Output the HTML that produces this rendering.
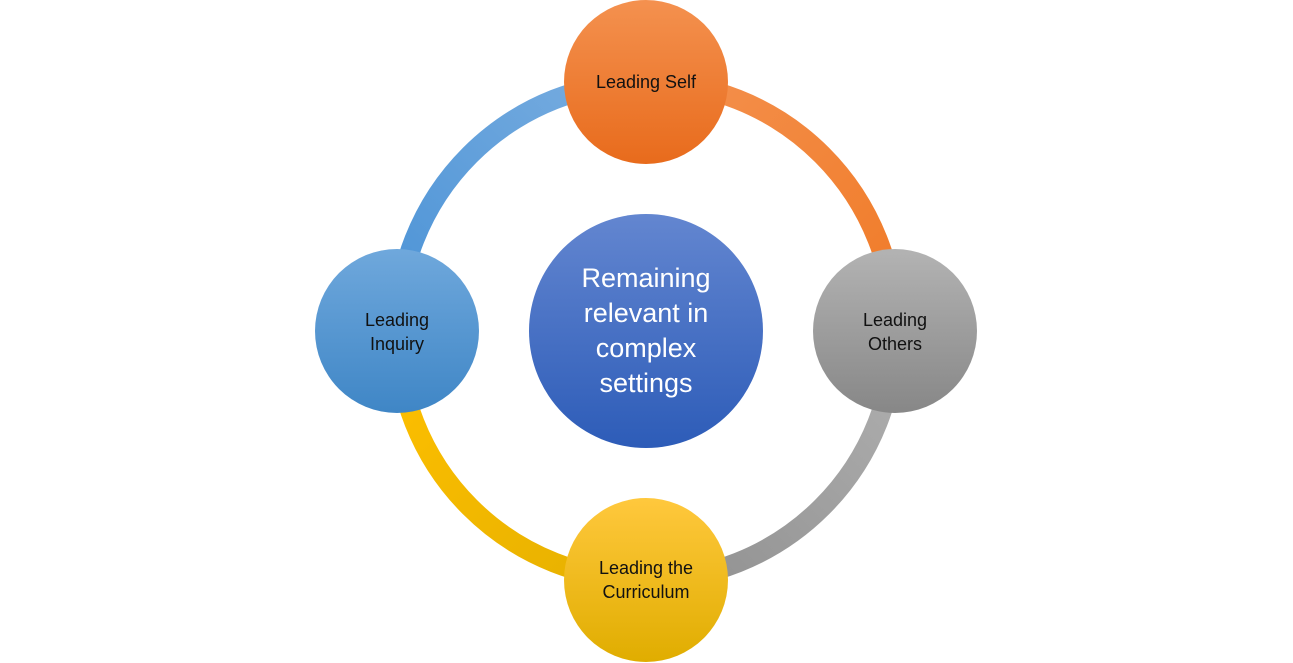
<!DOCTYPE html>
<html><head><meta charset="utf-8"><style>
html,body{margin:0;padding:0;background:#fff;}
svg{display:block;}
text{font-family:"Liberation Sans",sans-serif;}
</style></head><body>
<svg width="1293" height="663" viewBox="0 0 1293 663" xmlns="http://www.w3.org/2000/svg">
<defs>
<linearGradient id="go" x1="0" y1="0" x2="0" y2="1"><stop offset="0" stop-color="#f4914f"/><stop offset="1" stop-color="#e86b1c"/></linearGradient>
<linearGradient id="gg" x1="0" y1="0" x2="0" y2="1"><stop offset="0" stop-color="#b3b3b3"/><stop offset="1" stop-color="#878787"/></linearGradient>
<linearGradient id="gy" x1="0" y1="0" x2="0" y2="1"><stop offset="0" stop-color="#ffc83d"/><stop offset="1" stop-color="#e0ad00"/></linearGradient>
<linearGradient id="gb" x1="0" y1="0" x2="0" y2="1"><stop offset="0" stop-color="#6fa8dc"/><stop offset="1" stop-color="#3f86c6"/></linearGradient>
<linearGradient id="gc" x1="0" y1="0" x2="0" y2="1"><stop offset="0" stop-color="#6386d0"/><stop offset="1" stop-color="#2d5cb8"/></linearGradient>
<linearGradient id="ao" x1="0" y1="0" x2="1" y2="1"><stop offset="0" stop-color="#f4914f"/><stop offset="1" stop-color="#f07a26"/></linearGradient>
<linearGradient id="ag" x1="1" y1="0" x2="0" y2="1"><stop offset="0" stop-color="#b0b0b0"/><stop offset="1" stop-color="#8f8f8f"/></linearGradient>
<linearGradient id="ay" x1="0" y1="0" x2="1" y2="1"><stop offset="0" stop-color="#ffc000"/><stop offset="1" stop-color="#e5b000"/></linearGradient>
<linearGradient id="ab" x1="1" y1="0" x2="0" y2="1"><stop offset="0" stop-color="#7aaee0"/><stop offset="1" stop-color="#4a92d6"/></linearGradient>
</defs>
<g fill="none" stroke-width="20">
<path d="M646 82 A249 249 0 0 1 895 331" stroke="url(#ao)"/>
<path d="M895 331 A249 249 0 0 1 646 580" stroke="url(#ag)"/>
<path d="M646 580 A249 249 0 0 1 397 331" stroke="url(#ay)"/>
<path d="M397 331 A249 249 0 0 1 646 82" stroke="url(#ab)"/>
</g>
<circle cx="646" cy="331" r="117" fill="url(#gc)"/>
<circle cx="646" cy="82" r="82" fill="url(#go)"/>
<circle cx="895" cy="331" r="82" fill="url(#gg)"/>
<circle cx="646" cy="580" r="82" fill="url(#gy)"/>
<circle cx="397" cy="331" r="82" fill="url(#gb)"/>
<g font-size="18" fill="#111" text-anchor="middle">
<text x="646" y="88">Leading Self</text>
<text x="895" y="326">Leading</text><text x="895" y="350">Others</text>
<text x="646" y="574">Leading the</text><text x="646" y="598">Curriculum</text>
<text x="397" y="326">Leading</text><text x="397" y="350">Inquiry</text>
</g>
<g font-size="27" fill="#fff" text-anchor="middle">
<text x="646" y="287">Remaining</text>
<text x="646" y="322">relevant in</text>
<text x="646" y="357">complex</text>
<text x="646" y="392">settings</text>
</g>
</svg>
</body></html>
